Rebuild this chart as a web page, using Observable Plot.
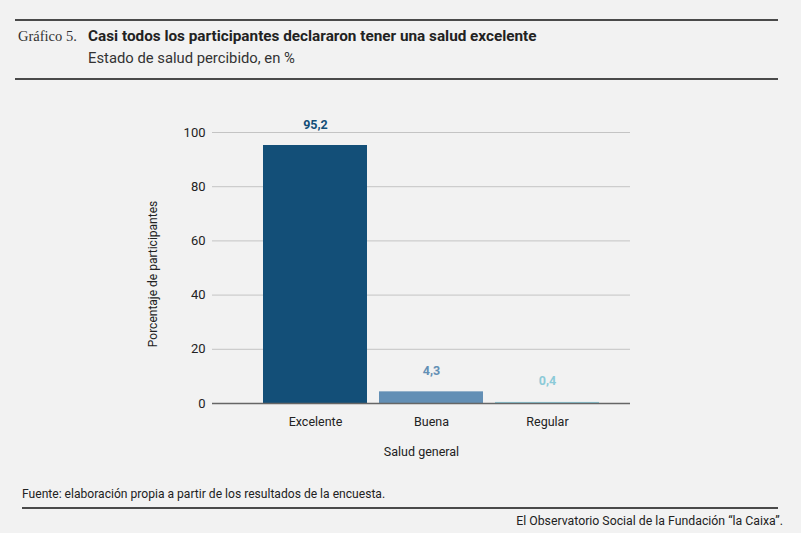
<!DOCTYPE html>
<html>
<head>
<meta charset="utf-8">
<script src="https://cdn.jsdelivr.net/npm/d3@7"></script>
<script src="https://cdn.jsdelivr.net/npm/@observablehq/plot@0.6"></script>
<style>
  html, body { margin: 0; padding: 0; background: #f2f2f2; width: 801px; height: 533px; overflow: hidden; position: relative; font-family: Roboto, "Noto Sans", sans-serif; }
  .rule { position: absolute; height: 2px; background: #4a4a4a; }
  .abs { position: absolute; white-space: nowrap; color: #222; }
  #chart { position: absolute; left: 0; top: 80px; }
</style>
</head>
<body>
<div class="rule" style="left:15px; width:763px; top:19px;"></div>
<div class="abs" style="left:18px; top:28px; font-family:'Liberation Serif','DejaVu Serif',serif; font-size:14.5px; color:#333;">Gráfico 5.</div>
<div class="abs" style="left:88px; top:27px; font-size:15.3px; font-weight:700; color:#222;">Casi todos los participantes declararon tener una salud excelente</div>
<div class="abs" style="left:88px; top:49px; font-size:14.8px; color:#333;">Estado de salud percibido, en %</div>
<div class="rule" style="left:15px; width:763px; top:78px;"></div>
<div id="chart"></div>
<div class="abs" style="left:22px; top:487px; font-size:12.1px; color:#222;">Fuente: elaboración propia a partir de los resultados de la encuesta.</div>
<div class="rule" style="left:22px; width:756px; top:507px;"></div>
<div class="abs" style="right:18px; top:514px; font-size:12.3px; color:#222;">El Observatorio Social de la Fundación “la Caixa”.</div>
<script>
const categories = ["Excelente", "Buena", "Regular"];
const values = [95.2, 4.3, 0.4];
const labels = ["95,2", "4,3", "0,4"];
const barColors = ["#134f78", "#638fb5", "#8ccad8"];
const yTicks = [0, 20, 40, 60, 80, 100];
const yTitle = "Porcentaje de participantes";
const xTitle = "Salud general";

const data = categories.map((c, i) => ({cat: c, value: values[i], label: labels[i], color: barColors[i]}));

const plot = Plot.plot({
  width: 801,
  height: 400,
  marginLeft: 212,
  marginRight: 171,
  marginTop: 52,
  marginBottom: 77,
  style: {background: "transparent", fontFamily: "Roboto, 'Noto Sans', sans-serif", fontSize: "12px", color: "#222"},
  x: {domain: categories, range: [262, 601.3], paddingInner: 0.1, paddingOuter: 0, label: null},
  y: {domain: [0, 100], ticks: yTicks, label: null},
  marks: [
    Plot.ruleY(yTicks.filter(d => d > 0), {stroke: "#c4c4c4", strokeWidth: 1}),
    Plot.barY(data, {x: "cat", y: "value", fill: "color"}),
    Plot.ruleY([0], {stroke: "#666", strokeWidth: 1.5}),
    Plot.text(data, {x: "cat", y: "value", text: "label", fill: "color", dy: -21, fontWeight: 700, fontSize: 12.5}),
    Plot.axisY({ticks: yTicks, tickSize: 0, tickPadding: 7, fontSize: 13, label: null}),
    Plot.text([yTitle], {frameAnchor: "left", textAnchor: "middle", lineAnchor: "middle", rotate: -90, dx: -59, dy: 6, fontSize: 12, fill: "#222"}),
    Plot.axisX({tickSize: 0, tickPadding: 14, fontSize: 12.5, label: null}),
    Plot.text([xTitle], {frameAnchor: "bottom", textAnchor: "middle", lineAnchor: "middle", dy: 48, fontSize: 12.5, fill: "#222"})
  ]
});
document.getElementById("chart").appendChild(plot);
</script>
</body>
</html>
